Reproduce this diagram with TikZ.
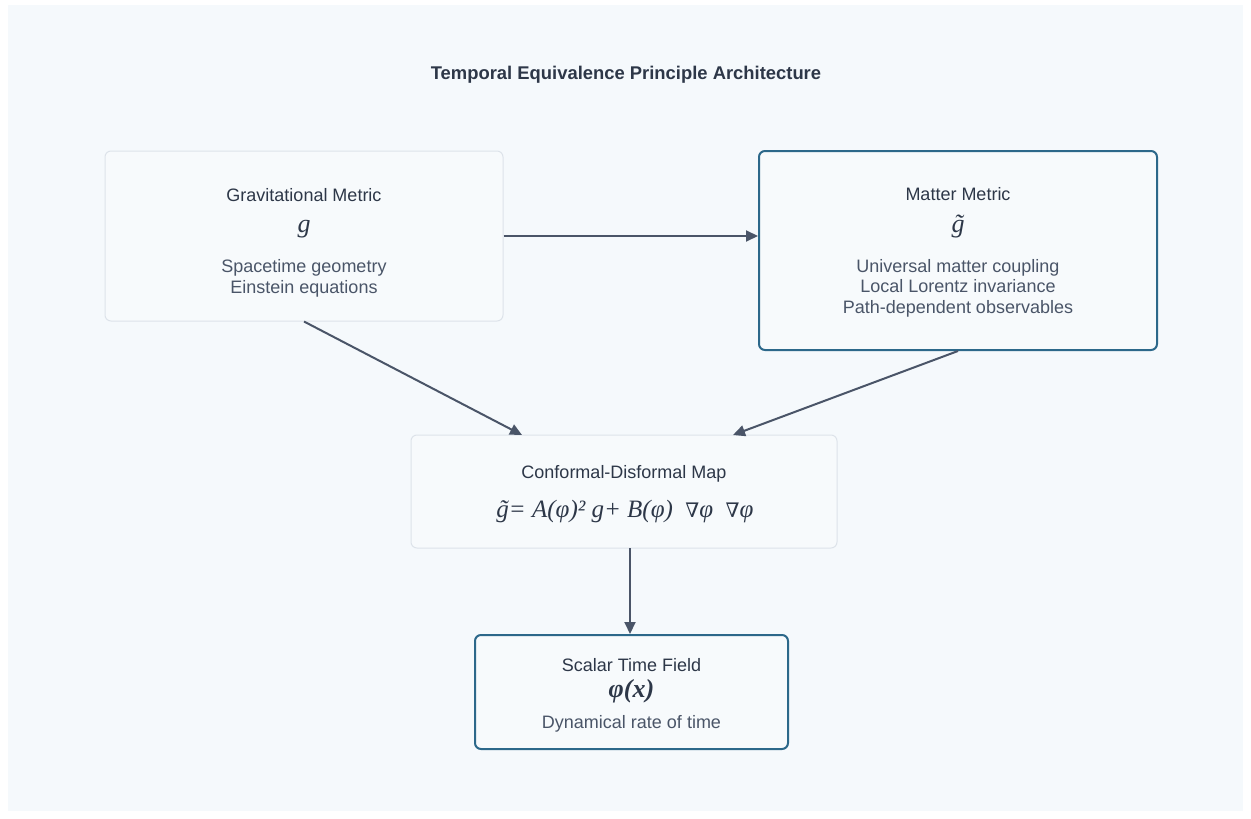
\documentclass[tikz,border=0pt]{standalone}
\usepackage{fontspec}
\setmainfont{Liberation Sans}
\newfontfamily\formulafont{Liberation Serif}
\newfontfamily\nablafont{DejaVu Serif}
\usetikzlibrary{arrows.meta}
\usetikzlibrary{positioning}

\definecolor{panel}{RGB}{245,249,252}
\definecolor{boxfill}{RGB}{247,250,252}
\definecolor{lightedge}{RGB}{221,227,234}
\definecolor{darkedge}{RGB}{44,104,138}
\definecolor{arrowgray}{RGB}{74,85,104}
\definecolor{headtext}{RGB}{45,55,72}
\definecolor{subtext}{RGB}{74,85,104}

\tikzset{
  metricbox/.style={draw=lightedge, line width=1pt, fill=boxfill, rounded corners=6pt, inner sep=0pt},
  keybox/.style={draw=darkedge, line width=2pt, fill=boxfill, rounded corners=6pt, inner sep=0pt},
  head/.style={anchor=base, text=headtext, font=\fontsize{18}{21}\selectfont, inner sep=0pt},
  sub/.style={anchor=base, text=subtext, font=\fontsize{18}{21}\selectfont, inner sep=0pt},
  sym/.style={anchor=base, text=headtext, font=\fontsize{26}{30}\selectfont\formulafont\itshape, inner sep=0pt},
  link/.style={draw=arrowgray, line width=2pt, -{Triangle[length=12pt,width=11pt]}}
}

\newcommand{\nab}{{\nablafont\itshape\fontsize{20}{24}\selectfont ∇}}

\begin{document}
\begin{tikzpicture}[x=1pt, y=-1pt]
      \fill[white] (0,0) rectangle (1251,819);
      \fill[panel] (8,5) rectangle (1243,811);

      \node[anchor=base, text=headtext, font=\bfseries\fontsize{18.4}{22}\selectfont] (title) at (626,79) {Temporal Equivalence Principle Architecture};

      \node[metricbox, minimum width=398pt, minimum height=170pt] (grav) at (304,236) {};
      \node[head] (gravhead) at (304,201) {Gravitational Metric};
      \node[sym] (gravsym) at (304,232) {g};
      \node[sub] (gravsub1) at (304,272) {Spacetime geometry};
      \node[sub] (gravsub2) at (304,293) {Einstein equations};

      \node[keybox, minimum width=398pt, minimum height=199pt] (matter) at (958,250.5) {};
      \node[head] (matterhead) at (958,200) {Matter Metric};
      \node[sym] (mattersym) at (958,232) {\~{g}};
      \node[sub] (mattersub1) at (958,272) {Universal matter coupling};
      \node[sub] (mattersub2) at (958,292) {Local Lorentz invariance};
      \node[sub] (mattersub3) at (958,313) {Path-dependent observables};

      \node[metricbox, minimum width=426pt, minimum height=113pt] (map) at (624,491.5) {};
      \node[head] (maphead) at (624,478) {Conformal-Disformal Map};
      \node[sym, font=\fontsize{25}{30}\selectfont\formulafont\itshape] (mapsym) at (625,517) {\~{g}= A(φ)² g+ B(φ)\ \ \nab φ\ \ \nab φ};

      \node[keybox, minimum width=313pt, minimum height=114pt] (field) at (631.5,692) {};
      \node[head] (fieldhead) at (631.5,671) {Scalar Time Field};
      \node[sym, font=\fontsize{26}{30}\selectfont\formulafont\bfseries\itshape] (fieldsym) at (631.5,697) {φ(x)};
      \node[sub] (fieldsub) at (631.5,728) {Dynamical rate of time};

      \coordinate (mapin1) at (522,435);
      \coordinate (mapin2) at (733,435);
      \coordinate (mapout) at (630,548);

      \draw[link] (grav.east) -- (grav.east -| matter.west);
      \draw[link] (grav.south) -- (mapin1);
      \draw[link] (matter.south) -- (mapin2);
      \draw[link] (mapout) -- (mapout |- field.north);
\end{tikzpicture}
\end{document}
